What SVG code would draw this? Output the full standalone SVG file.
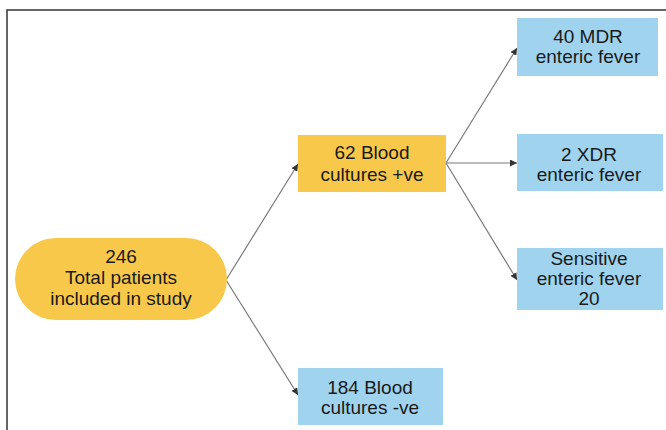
<svg xmlns="http://www.w3.org/2000/svg" width="666" height="430" viewBox="0 0 666 430">
<defs>
<style>
.y{fill:#F8C84B}
.b{fill:#9FD3EE}
.t{font-family:"Liberation Sans",Arial,sans-serif;font-size:19px;fill:#1a1a1a;text-anchor:middle}
.c{stroke:#7a7a7a;stroke-width:1.2;fill:none;marker-end:url(#ah)}
</style>
<marker id="ah" viewBox="0 0 10 10" refX="10" refY="5" markerWidth="7" markerHeight="7" markerUnits="userSpaceOnUse" orient="auto">
<path d="M0,0 L10,5 L0,10 z" fill="#333"/>
</marker>
</defs>
<rect width="666" height="430" fill="#fff"/>
<path d="M7,430 V10 H666" stroke="#333" stroke-width="1.5" fill="none"/>
<g id="connectors">
<line class="c" x1="226" y1="280" x2="298" y2="164"/>
<line class="c" x1="226" y1="280" x2="298" y2="395"/>
<line class="c" x1="446" y1="163" x2="517" y2="48"/>
<line class="c" x1="446" y1="163" x2="517" y2="163"/>
<line class="c" x1="446" y1="163" x2="517" y2="280"/>
</g>
<g id="n246">
<rect class="y" x="15" y="238" width="212" height="82" rx="41"/>
<text class="t" x="121" y="263">246</text>
<text class="t" x="121" y="284">Total patients</text>
<text class="t" x="121" y="305">included in study</text>
</g>
<g id="n62">
<rect class="y" x="298" y="135" width="148" height="57"/>
<text class="t" x="372" y="159">62 Blood</text>
<text class="t" x="372" y="181">cultures +ve</text>
</g>
<g id="n184">
<rect class="b" x="298" y="368" width="145" height="57"/>
<text class="t" x="370" y="394">184 Blood</text>
<text class="t" x="370" y="414">cultures -ve</text>
</g>
<g id="n40">
<rect class="b" x="517" y="18" width="141" height="58"/>
<text class="t" x="588" y="43">40 MDR</text>
<text class="t" x="588" y="63">enteric fever</text>
</g>
<g id="n2">
<rect class="b" x="517" y="134" width="146" height="57"/>
<text class="t" x="589" y="161">2 XDR</text>
<text class="t" x="589" y="181">enteric fever</text>
</g>
<g id="n20">
<rect class="b" x="517" y="248" width="146" height="62"/>
<text class="t" x="589" y="265">Sensitive</text>
<text class="t" x="589" y="285">enteric fever</text>
<text class="t" x="589" y="305">20</text>
</g>
</svg>
